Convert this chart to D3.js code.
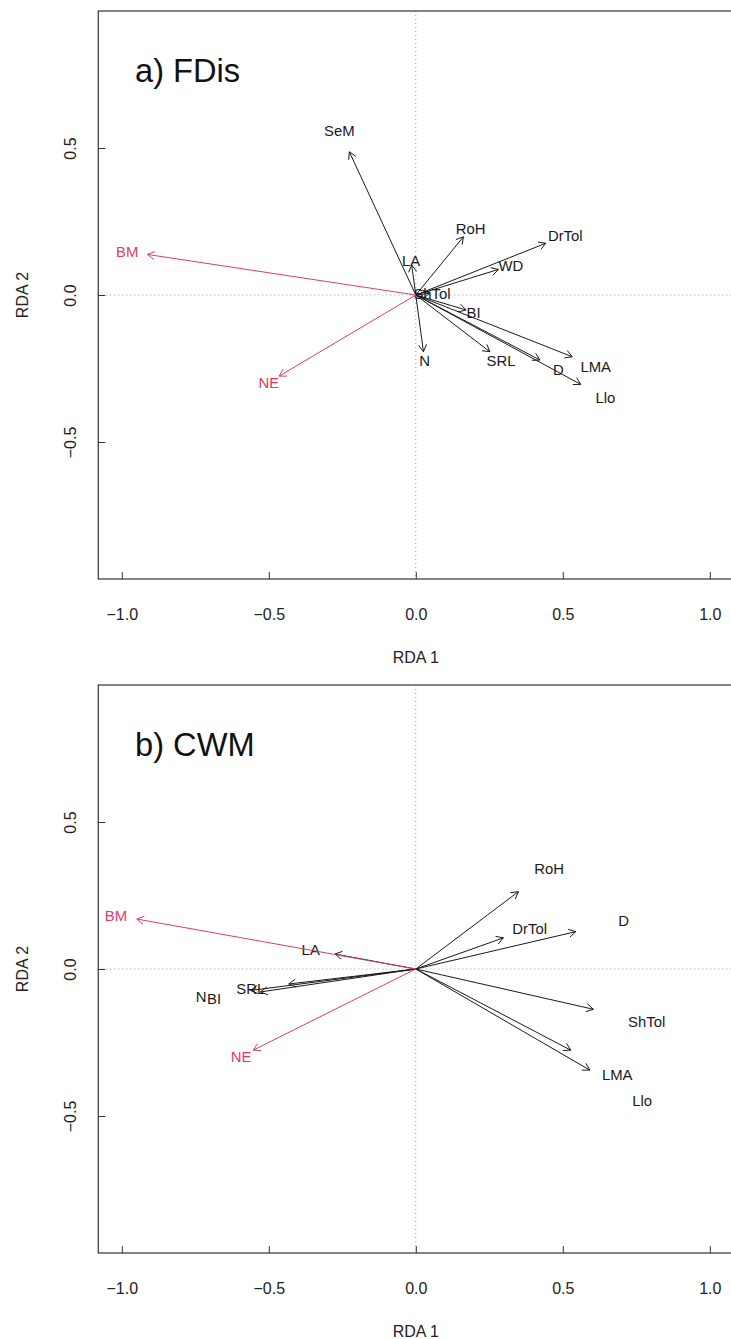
<!DOCTYPE html>
<html>
<head>
<meta charset="utf-8">
<script src="https://cdn.jsdelivr.net/npm/d3@7"></script>
<style>
  html, body { margin: 0; padding: 0; background: #fff; }
  svg { display: block; font-family: "Liberation Sans", Arial, Helvetica, sans-serif; }
</style>
</head>
<body>
<svg id="chart" width="731" height="1339"></svg>
<script>
// Axis ticks shared by both panels
const xTicks = [-1.0, -0.5, 0.0, 0.5, 1.0];
const yTicks = [-0.5, 0.0, 0.5];

// Panel a) FDis: trait arrows (RDA 1, RDA 2 scores)
const traitsA = ["SeM", "LA", "RoH", "DrTol", "WD", "ShTol", "BI", "SRL", "D", "LMA", "Llo", "N"];
const rda1A   = [-0.226, -0.014, 0.162, 0.442, 0.281, 0.048, 0.171, 0.252, 0.422, 0.532, 0.561, 0.026];
const rda2A   = [ 0.487,  0.102, 0.198, 0.176, 0.087, 0.006, -0.051, -0.193, -0.221, -0.210, -0.304, -0.193];

// Panel b) CWM: trait arrows
const traitsB = ["RoH", "DrTol", "D", "ShTol", "LMA", "Llo", "LA", "SRL", "N", "BI"];
const rda1B   = [0.349, 0.298, 0.544, 0.604, 0.527, 0.592, -0.275, -0.432, -0.562, -0.528];
const rda2B   = [0.263, 0.106, 0.127, -0.137, -0.276, -0.344, 0.051, -0.051, -0.073, -0.078];

// Explanatory variables (red arrows)
const envNames = ["BM", "NE"];
const env1A = [-0.913, -0.465];
const env2A = [ 0.138, -0.276];
const env1B = [-0.949, -0.553];
const env2B = [ 0.170, -0.276];

const panelTitles = ["a) FDis", "b) CWM"];

const svg = d3.select("#chart");
const envColor = "#E23A6A";
const traitColor = "#1a1a1a";

function drawPanel(y0px, title, names, r1, r2, e1, e2, traitLabelMult, envLabelMult) {
  // equal units on both axes: 294 px per unit
  const x = d3.scaleLinear().domain([-1, 1]).range([121.8, 709.8]);
  const y = d3.scaleLinear().domain([-1, 1]).range([y0px + 294, y0px - 294]);
  const xlim = [-1.08, 1.08], ylim = [-0.966, 0.966];
  const g = svg.append("g");

  // dotted zero lines
  g.append("line")
    .attr("x1", x(0)).attr("x2", x(0))
    .attr("y1", y(ylim[1])).attr("y2", y(ylim[0]))
    .attr("stroke", "#9a9a9a").attr("stroke-width", 1).attr("stroke-dasharray", "1,3");
  g.append("line")
    .attr("x1", x(xlim[0])).attr("x2", x(xlim[1]))
    .attr("y1", y(0)).attr("y2", y(0))
    .attr("stroke", "#9a9a9a").attr("stroke-width", 1).attr("stroke-dasharray", "1,3");

  // frame
  g.append("rect")
    .attr("x", x(xlim[0])).attr("y", y(ylim[1]))
    .attr("width", x(xlim[1]) - x(xlim[0])).attr("height", y(ylim[0]) - y(ylim[1]))
    .attr("fill", "none").attr("stroke", "#333").attr("stroke-width", 1.2);

  const fmt = d => d3.format(".1f")(d).replace("-", "\u2212");

  // axes with inward ticks
  const xAxis = d3.axisBottom(x).tickValues(xTicks).tickSize(-7).tickPadding(0).tickFormat(fmt);
  const gx = g.append("g").attr("transform", `translate(0,${y(ylim[0])})`).call(xAxis);
  gx.select(".domain").remove();
  gx.selectAll(".tick line").attr("stroke", "#333");
  gx.selectAll(".tick text").attr("font-size", 16).attr("fill", "#222")
    .attr("font-family", null).attr("dy", null).attr("y", 40.5);

  const yAxis = d3.axisLeft(y).tickValues(yTicks).tickSize(-7).tickPadding(0).tickFormat(fmt);
  const gy = g.append("g").attr("transform", `translate(${x(xlim[0])},0)`).call(yAxis);
  gy.select(".domain").remove();
  gy.selectAll(".tick line").attr("stroke", "#333");
  gy.selectAll(".tick text").attr("font-size", 16).attr("fill", "#222")
    .attr("font-family", null).attr("x", null).attr("text-anchor", "middle")
    .attr("transform", "translate(-27.5,0) rotate(-90)")
    .attr("y", 0).attr("dy", "0.35em");

  // axis titles
  g.append("text").attr("x", x(0)).attr("y", y(ylim[0]) + 84)
    .attr("text-anchor", "middle").attr("font-size", 16).attr("fill", "#222").text("RDA 1");
  g.append("text").attr("transform", `translate(28,${y(0)}) rotate(-90)`)
    .attr("text-anchor", "middle").attr("font-size", 16).attr("fill", "#222").text("RDA 2");

  // panel title
  g.append("text").attr("transform", `translate(135,${y0px - 213}) scale(0.96,1)`)
    .attr("font-size", 34).attr("fill", "#111").text(title);

  function arrows(n, a1, a2, color, mult) {
    const data = n.map((name, i) => ({ name, v1: a1[i], v2: a2[i] }));
    const ag = g.append("g");
    data.forEach(d => {
      const xa = x(0), ya = y(0), xb = x(d.v1), yb = y(d.v2);
      ag.append("line").attr("x1", xa).attr("y1", ya).attr("x2", xb).attr("y2", yb)
        .attr("stroke", color).attr("stroke-width", 1);
      const ang = Math.atan2(yb - ya, xb - xa);
      const len = 8, spread = Math.PI / 6;
      const p = [ang + Math.PI - spread, ang + Math.PI + spread].map(a => [xb + len * Math.cos(a), yb + len * Math.sin(a)]);
      ag.append("path")
        .attr("d", `M${p[0][0]},${p[0][1]}L${xb},${yb}L${p[1][0]},${p[1][1]}`)
        .attr("fill", "none").attr("stroke", color).attr("stroke-width", 1);
    });
    data.forEach(d => {
      ag.append("text")
        .attr("transform", `translate(${x(d.v1 * mult)},${y(d.v2 * mult)}) scale(0.96,1)`)
        .attr("text-anchor", "middle").attr("dy", "0.36em")
        .attr("font-size", 15.5).attr("fill", color).text(d.name);
    });
  }
  arrows(names, r1, r2, traitColor, traitLabelMult);
  arrows(envNames, e1, e2, envColor, envLabelMult);
}

drawPanel(295, panelTitles[0], traitsA, rda1A, rda2A, env1A, env2A, 1.15, 1.075);
drawPanel(969, panelTitles[1], traitsB, rda1B, rda2B, env1B, env2B, 1.3, 1.075);
</script>
</body>
</html>
